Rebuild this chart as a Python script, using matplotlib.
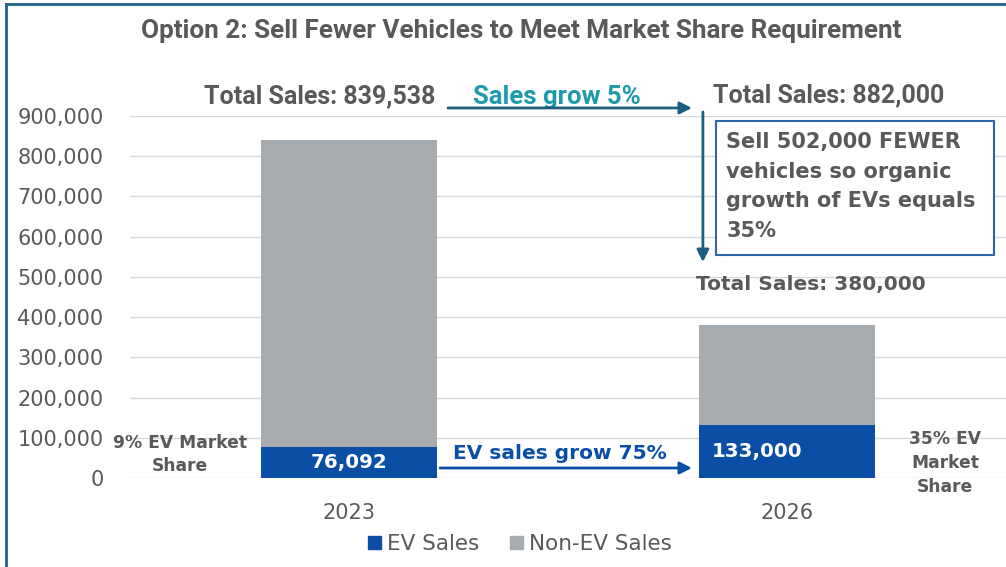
import matplotlib.pyplot as plt
from matplotlib.patches import Patch, Rectangle
from matplotlib.lines import Line2D

# Data
years = ["2023", "2026"]
ev_sales = [76092, 133000]
total_sales = [839538, 380000]
non_ev_sales = [t - e for t, e in zip(total_sales, ev_sales)]
yticks = [0, 100000, 200000, 300000, 400000, 500000, 600000, 700000, 800000, 900000]

BLUE = "#0B4EA6"
GRAY = "#A5ABAF"
TXT = "#595959"
TEAL_TXT = "#1E9AAA"
TEAL_ARR = "#1B5E7E"
NARROW = ["Roboto", "DejaVu Sans"]
REG = ["DejaVu Sans"]

fig = plt.figure(figsize=(10.06, 5.67), dpi=100)
ax = fig.add_axes([130 / 1006, 1 - 478 / 567, 876 / 1006, 362 / 567])

x = list(range(len(years)))
ax.bar(x, ev_sales, width=0.4, color=BLUE, label="EV Sales", zorder=3)
ax.bar(x, non_ev_sales, width=0.4, bottom=ev_sales, color=GRAY, label="Non-EV Sales", zorder=3)

ax.set_xlim(-0.5, 1.5)
ax.set_ylim(0, 900000)
ax.set_yticks(yticks)
ax.set_yticklabels([f"{v:,}" for v in yticks], fontfamily=REG, fontsize=15, color=TXT)
ax.set_xticks(x)
ax.set_xticklabels(years, fontfamily=REG, fontsize=15, color=TXT)
ax.tick_params(axis="y", length=0, pad=19)
ax.tick_params(axis="x", length=0, pad=18)
ax.grid(axis="y", color="#D9D9D9", linewidth=1, zorder=0)
for s in ax.spines.values():
    s.set_visible(False)

bold = dict(fontweight="bold", color=TXT, ha="center", va="center", clip_on=False)

# Title
fig.text(521 / 1006, 1 - 31 / 567, "Option 2: Sell Fewer Vehicles to Meet Market Share Requirement",
         ha="center", va="center", fontsize=18.8, fontweight="bold", color=TXT, family=NARROW)

# Top annotations
ax.text(-0.066, 950000, f"Total Sales: {total_sales[0]:,}", fontsize=18, family=NARROW, **bold)
ax.text(1.096, 952000, "Total Sales: 882,000", fontsize=18, family=NARROW, **bold)
ax.text(0.475, 947000, "Sales grow 5%", fontsize=18.5, family=NARROW,
        fontweight="bold", color=TEAL_TXT, ha="center", va="center")
ax.annotate("", xy=(0.783, 920000), xytext=(0.226, 920000), annotation_clip=False,
            arrowprops=dict(arrowstyle="-|>", color=TEAL_ARR, lw=2, mutation_scale=18,
                            shrinkA=0, shrinkB=0))
ax.annotate("", xy=(0.808, 537000), xytext=(0.808, 910000), annotation_clip=False,
            arrowprops=dict(arrowstyle="-|>", color=TEAL_ARR, lw=2, mutation_scale=18,
                            shrinkA=0, shrinkB=0))

# Box
ax.add_patch(Rectangle((0.838, 554000), 0.635, 334000, facecolor="white",
                       edgecolor="#2E64B0", lw=1.5, zorder=4, clip_on=False))
ax.text(0.861, 724700, "Sell 502,000 FEWER\nvehicles so organic\ngrowth of EVs equals\n35%",
        fontsize=15, family=REG, fontweight="bold", color=TXT, ha="left", va="center",
        linespacing=1.6, zorder=5)

ax.text(1.055, 482000, f"Total Sales: {total_sales[1]:,}", fontsize=14.5, family=REG, **bold)

# Bottom annotations
ax.text(-0.386, 58400, "9% EV Market\nShare", fontsize=12.3, family=REG, linespacing=1.3, **bold)
ax.text(1.361, 37300, "35% EV\nMarket\nShare", fontsize=12.3, family=REG, linespacing=1.4, **bold)
ax.text(0, ev_sales[0] / 2, f"{ev_sales[0]:,}", fontsize=14.3, family=REG,
        fontweight="bold", color="white", ha="center", va="center", zorder=5)
ax.text(0.932, ev_sales[1] / 2, f"{ev_sales[1]:,}", fontsize=14.3, family=REG,
        fontweight="bold", color="white", ha="center", va="center", zorder=5)
ax.text(0.482, 62000, "EV sales grow 75%", fontsize=14.5, family=REG,
        fontweight="bold", color=BLUE, ha="center", va="center")
ax.annotate("", xy=(0.783, 24900), xytext=(0.208, 24900), annotation_clip=False,
            arrowprops=dict(arrowstyle="-|>", color=BLUE, lw=2, mutation_scale=18,
                            shrinkA=0, shrinkB=0))

# Legend
handles = [Patch(color=BLUE, label="EV Sales"), Patch(color=GRAY, label="Non-EV Sales")]
fig.legend(handles=handles, loc="center", bbox_to_anchor=(520 / 1006, 1 - 544 / 567),
           ncol=2, frameon=False, handlelength=0.6, handleheight=0.6, handletextpad=0.3,
           columnspacing=1.4, prop={"family": REG, "size": 15.5}, labelcolor=TXT)

# Frame border (left and top visible)
fig.add_artist(Line2D([6 / 1006, 6 / 1006], [0, 1 - 4 / 567], color="#1F5F8B", lw=2))
fig.add_artist(Line2D([6 / 1006, 1], [1 - 4 / 567, 1 - 4 / 567], color="#1F5F8B", lw=2))

fig.savefig("out.png", dpi=100)
